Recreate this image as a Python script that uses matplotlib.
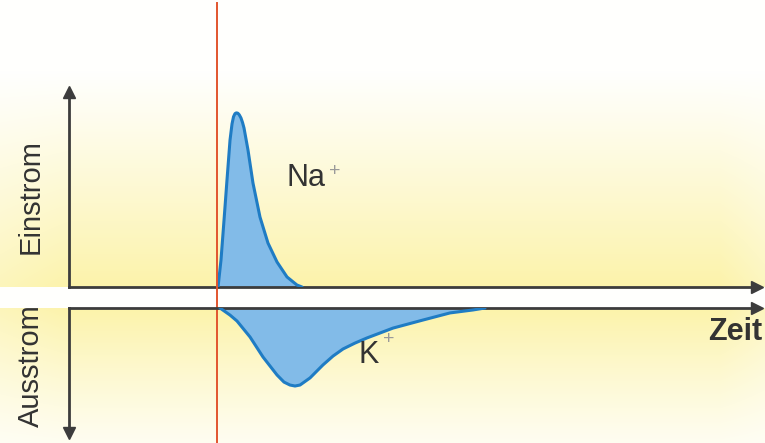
import numpy as np
import matplotlib
matplotlib.use("Agg")
import matplotlib.pyplot as plt
import matplotlib.transforms as mtransforms

plt.rcParams['font.family'] = ['Liberation Sans', 'DejaVu Sans']

# Time after stimulus (ms) and ionic current (arbitrary units)
na_time = [0.014, 0.054, 0.095, 0.135, 0.176, 0.203, 0.223, 0.243, 0.262, 0.282,
           0.301, 0.324, 0.345, 0.365, 0.419, 0.486, 0.581, 0.689, 0.811, 0.946,
           1.081, 1.149]
na_current = [0.0, 0.137, 0.340, 0.543, 0.746, 0.828, 0.864, 0.880, 0.884, 0.882,
              0.874, 0.858, 0.835, 0.807, 0.695, 0.528, 0.355, 0.223, 0.127, 0.051,
              0.010, 0.0]

k_time = [0.04, 0.176, 0.27, 0.446, 0.622, 0.811, 0.905, 0.986, 1.054, 1.122,
          1.257, 1.432, 1.568, 1.703, 1.865, 2.027, 2.378, 2.784, 3.149, 3.459, 3.622]
k_current = [0.0, -0.036, -0.066, -0.147, -0.249, -0.340, -0.376, -0.391, -0.396,
             -0.391, -0.355, -0.289, -0.244, -0.208, -0.178, -0.152, -0.102, -0.061,
             -0.025, -0.010, 0.0]

stimulus_time = 0.0
axis_labels = ["Einstrom", "Ausstrom"]
time_label = "Zeit"
ion_labels = ["Na", "K"]

W, H = 765, 443
fig = plt.figure(figsize=(W / 100, H / 100), dpi=100)

# pale yellow backdrop, fading to white away from the axes
yy = np.arange(H).astype(float)
xx = np.arange(W).astype(float)
v = np.zeros(H)
top = (yy >= 70) & (yy < 287)
v[top] = ((yy[top] - 70) / (287 - 70)) ** 1.1
bot = yy >= 308
v[bot] = np.clip(1 - (yy[bot] - 308) / 175, 0.12, 1) ** 1.3
h = np.clip(0.8 + 0.2 * xx / 70, 0, 1) * np.clip(1 - 0.25 * (xx - 720) / 45, 0.75, 1)
strength = v[:, None] * h[None, :]
yellow = np.array([252, 243, 170]) / 255.0
white = np.array([1.0, 1.0, 0.995])
img = white[None, None, :] + strength[:, :, None] * (yellow - white)[None, None, :]
bg = fig.add_axes([0, 0, 1, 1])
bg.imshow(img, aspect='auto', extent=[0, W, H, 0], interpolation='bilinear')
bg.set_xlim(0, W)
bg.set_ylim(H, 0)
bg.axis('off')

px_per_ms = 74.0
x_left, x_right = 69, 757
xlim = (-(217 - x_left) / px_per_ms, (x_right - 217) / px_per_ms)
unit = 197.0

axis_color = '#3c3c3c'
fill_color = '#82bbe8'
edge_color = '#1f7cc4'

ax1 = fig.add_axes([x_left / W, 1 - 287 / H, (x_right - x_left) / W, (287 - 92) / H])
ax2 = fig.add_axes([x_left / W, 1 - 433 / H, (x_right - x_left) / W, (433 - 308) / H])
ax1.set_xlim(*xlim)
ax1.set_ylim(0, (287 - 92) / unit)
ax2.set_xlim(*xlim)
ax2.set_ylim(-(433 - 308) / unit, 0)

for ax, shown in ((ax1, ('left', 'bottom')), (ax2, ('left', 'top'))):
    ax.set_facecolor('none')
    for name, sp in ax.spines.items():
        sp.set_visible(name in shown)
        sp.set_color(axis_color)
        sp.set_linewidth(2)
    ax.set_xticks([])
    ax.set_yticks([])

# arrow heads
ax1.plot(1, 0, '>', color=axis_color, ms=9, transform=ax1.transAxes, clip_on=False)
ax1.plot(0, 1, '^', color=axis_color, ms=9, transform=ax1.transAxes, clip_on=False)
ax2.plot(1, 1, '>', color=axis_color, ms=9, transform=ax2.transAxes, clip_on=False)
ax2.plot(0, 0, 'v', color=axis_color, ms=9, transform=ax2.transAxes, clip_on=False)

# sodium inflow and potassium outflow
ax1.fill_between(na_time, na_current, 0, color=fill_color, lw=0, zorder=2)
ax1.plot(na_time, na_current, color=edge_color, lw=2.2, solid_joinstyle='round',
         solid_capstyle='round', zorder=3)
ax2.fill_between(k_time, k_current, 0, color=fill_color, lw=0, zorder=2)
ax2.plot(k_time, k_current, color=edge_color, lw=2.2, solid_joinstyle='round',
         solid_capstyle='round', zorder=3)

# stimulus marker through both panels
trans = mtransforms.blended_transform_factory(ax1.transData, fig.transFigure)
ax1.plot([stimulus_time, stimulus_time], [0, 1 - 3 / H], color='#e2552e', lw=1.4,
         transform=trans, clip_on=False, zorder=4)

text_color = '#333333'
plus_color = '#9a9a9a'


def px_x(p):
    return (p - 217) / px_per_ms


ax1.text(px_x(287), (287 - 178) / unit, ion_labels[0], fontsize=22, color=text_color,
         ha='left', va='center')
ax1.text(px_x(335), (287 - 172) / unit, '+', fontsize=14, color=plus_color,
         ha='center', va='center')
ax2.text(px_x(359), -(355 - 308) / unit, ion_labels[1], fontsize=22, color=text_color,
         ha='left', va='center')
ax2.text(px_x(389), -(340 - 308) / unit, '+', fontsize=14, color=plus_color,
         ha='center', va='center')

fig.text(762 / W, 1 - 332 / H, time_label, fontsize=22, fontweight='bold',
         color=text_color, ha='right', va='center')
fig.text(31 / W, 1 - 197 / H, axis_labels[0], fontsize=21, rotation=90,
         color=text_color, ha='center', va='center')
fig.text(31 / W, 1 - 366 / H, axis_labels[1], fontsize=21, rotation=90,
         color=text_color, ha='center', va='center')

fig.savefig('out.png', dpi=100)
